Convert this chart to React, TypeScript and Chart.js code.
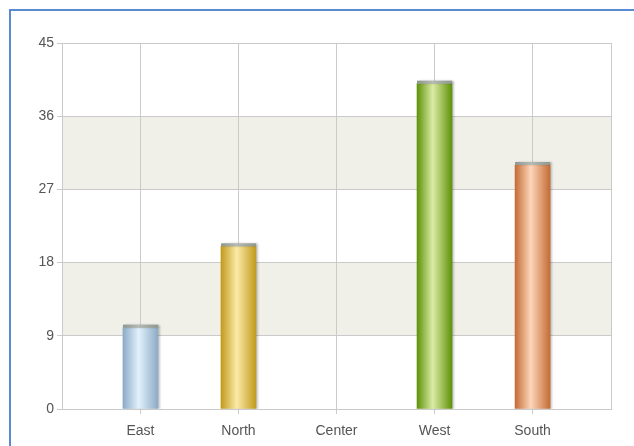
import React, { useEffect, useRef } from "react";
import { Chart, registerables } from "chart.js";

Chart.register(...registerables);

const categories = ["East", "North", "Center", "West", "South"];
const values = [10, 20, 0, 40, 30];
const yTicks = [0, 9, 18, 27, 36, 45];
const bandRanges = [
  [9, 18],
  [27, 36],
];
const barEdgeColors = ["#8cabc6", "#c29a1e", "#5f920a", "#c46c36"];
const barLightColors = ["#e2f1fc", "#fbeaa6", "#dbeca4", "#fdd6b9"];
const barColorIndex = [0, 1, 1, 2, 3];

export default function App() {
  const ref = useRef<HTMLCanvasElement | null>(null);

  useEffect(() => {
    if (!ref.current) return;
    const bandPlugin = {
      id: "bands",
      beforeDraw(chart: any) {
        const { ctx, chartArea, scales } = chart;
        ctx.save();
        ctx.fillStyle = "#f0f0e9";
        for (const [a, b] of bandRanges) {
          const y1 = scales.y.getPixelForValue(b);
          const y2 = scales.y.getPixelForValue(a);
          ctx.fillRect(chartArea.left, y1, chartArea.right - chartArea.left, y2 - y1);
        }
        ctx.restore();
      },
      beforeDatasetsDraw(chart: any) {
        const ctx = chart.ctx;
        ctx.save();
        ctx.shadowColor = "rgba(0,0,0,0.22)";
        ctx.shadowOffsetX = 2;
        ctx.shadowOffsetY = 0;
        ctx.shadowBlur = 2;
      },
      afterDatasetsDraw(chart: any) {
        const ctx = chart.ctx;
        const meta = chart.getDatasetMeta(0);
        meta.data.forEach((el: any, i: number) => {
          if (values[i] === 0) return;
          const { x, y, width } = el.getProps(["x", "y", "width"], true);
          const g = ctx.createLinearGradient(x - width / 2, 0, x + width / 2, 0);
          g.addColorStop(0, "#8e968e");
          g.addColorStop(0.45, "#b4bab4");
          g.addColorStop(1, "#8e968e");
          ctx.fillStyle = g;
          ctx.fillRect(x - width / 2, y - 3, width, 3);
        });
        ctx.restore();
      },
    };

    const chart = new Chart(ref.current, {
      type: "bar",
      data: {
        datasets: [
          {
            data: values.map((v, i) => ({ x: i, y: v === 0 ? null : v })),
            barThickness: 35,
            backgroundColor: (c: any) => {
              const ci = barColorIndex[c.dataIndex] ?? 0;
              const xs = c.chart.scales?.x;
              if (!xs || c.type !== "data") return barEdgeColors[ci];
              const cx = xs.getPixelForValue(c.dataIndex);
              if (!Number.isFinite(cx)) return barEdgeColors[ci];
              const g = c.chart.ctx.createLinearGradient(cx - 17.5, 0, cx + 17.5, 0);
              g.addColorStop(0, barEdgeColors[ci]);
              g.addColorStop(0.45, barLightColors[ci]);
              g.addColorStop(1, barEdgeColors[ci]);
              return g;
            },
            borderWidth: 0,
          } as any,
        ],
      },
      options: {
        responsive: false,
        animation: false,
        layout: { padding: { left: 0, top: 43, right: 23, bottom: 0 } },
        plugins: { legend: { display: false }, tooltip: { enabled: false } },
        scales: {
          x: {
            type: "linear",
            offset: false,
            min: -0.8,
            max: categories.length - 0.2,
            afterBuildTicks: (s: any) => {
              s.ticks = [-0.8, ...categories.map((_, i) => i), categories.length - 0.2].map((v) => ({ value: v }));
            },
            afterFit: (s: any) => {
              s.height = 37;
            },
            grid: {
              offset: false,
              color: "#cacaca",
              lineWidth: 1,
              tickLength: 5,
              tickColor: (c: any) =>
                c.tick && Number.isInteger(c.tick.value) ? "#cacaca" : "rgba(0,0,0,0)",
            },
            border: { color: "#cacaca" },
            ticks: {
              autoSkip: false,
              maxRotation: 0,
              padding: 9,
              color: "#555",
              font: { family: "Liberation Sans", size: 14 },
              callback: (v: any) => (Number.isInteger(v) ? categories[v] ?? "" : ""),
            },
          },
          y: {
            min: 0,
            max: 45,
            afterBuildTicks: (s: any) => {
              s.ticks = yTicks.map((v) => ({ value: v }));
            },
            afterFit: (s: any) => {
              s.width = 62;
            },
            grid: { color: "#cacaca", lineWidth: 1, tickLength: 5 },
            border: { color: "#cacaca" },
            ticks: {
              padding: 3,
              color: "#555",
              font: { family: "Liberation Sans", size: 14 },
            },
          },
        },
      },
      plugins: [bandPlugin],
    } as any);
    return () => chart.destroy();
  }, []);

  return (
    <div
      style={{
        position: "fixed",
        left: 0,
        top: 0,
        width: 634,
        height: 446,
        overflow: "hidden",
        background: "#fff",
      }}
    >
      <div
        style={{
          position: "absolute",
          left: 9,
          top: 9,
          width: 800,
          height: 800,
          borderTop: "2px solid #5a8ad2",
          borderLeft: "2px solid #5a8ad2",
        }}
      />
      <canvas
        ref={ref}
        width={634}
        height={446}
        style={{ position: "absolute", left: 0, top: 0 }}
      />
    </div>
  );
}
